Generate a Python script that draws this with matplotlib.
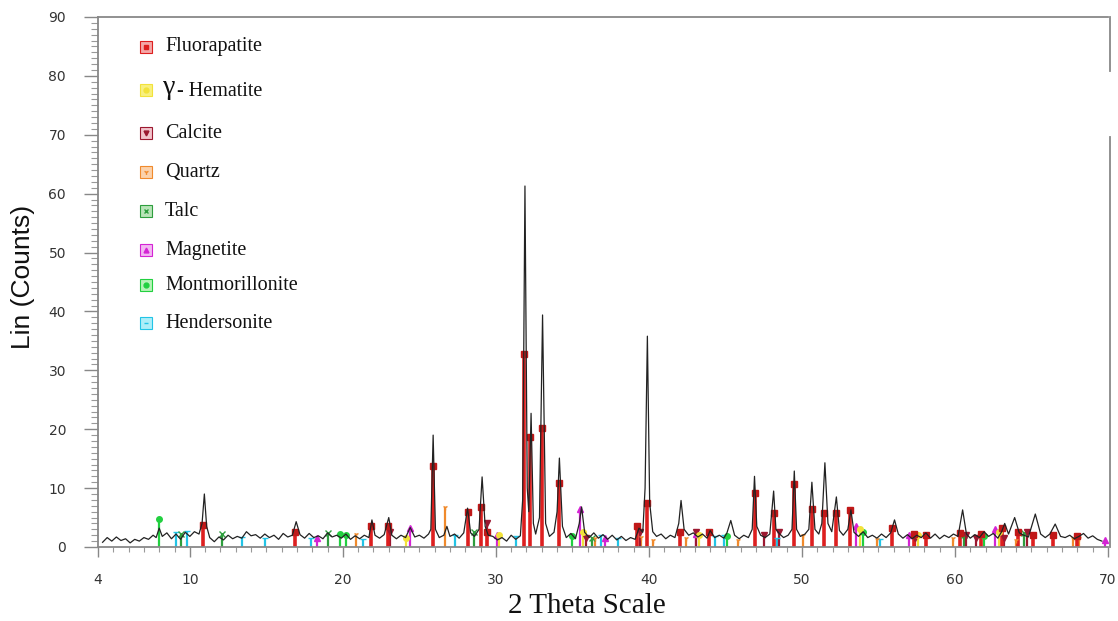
import matplotlib.pyplot as plt
from matplotlib.ticker import MultipleLocator

# padrao de difracao (2theta, contagens)
two_theta = [4.3, 4.6, 4.9, 5.2, 5.5, 5.8, 6.1, 6.4, 6.7, 7.0, 7.3, 7.6, 7.8, 8.0, 8.2, 8.5, 8.8, 9.1, 9.4, 9.7,
             10.0, 10.3, 10.6, 10.8, 10.95, 11.1, 11.3, 11.6, 11.9, 12.2, 12.5, 12.8, 13.1, 13.4, 13.7, 14.0,
             14.3, 14.6, 14.9, 15.2, 15.5, 15.8, 16.1, 16.4, 16.7, 16.95, 17.2, 17.5, 17.8, 18.1, 18.4, 18.7,
             19.0, 19.3, 19.6, 19.9, 20.2, 20.5, 20.8, 21.1, 21.4, 21.7, 21.9, 22.1, 22.4, 22.7, 23.0, 23.2,
             23.5, 23.8, 24.1, 24.4, 24.7, 25.0, 25.3, 25.6, 25.75, 25.9, 26.05, 26.3, 26.6, 26.8, 27.0, 27.3,
             27.6, 27.9, 28.15, 28.35, 28.6, 28.9, 29.1, 29.3, 29.5, 29.8, 30.1, 30.4, 30.7, 31.0, 31.3, 31.6,
             31.75, 31.9, 32.05, 32.15, 32.3, 32.45, 32.6, 32.85, 33.05, 33.25, 33.5, 33.8, 34.0, 34.15, 34.35,
             34.6, 34.9, 35.2, 35.45, 35.6, 35.8, 36.1, 36.4, 36.7, 37.0, 37.3, 37.6, 37.9, 38.2, 38.5, 38.8,
             39.1, 39.35, 39.6, 39.75, 39.9, 40.05, 40.25, 40.5, 40.8, 41.1, 41.4, 41.7, 41.95, 42.1, 42.3,
             42.6, 42.9, 43.2, 43.5, 43.8, 44.0, 44.3, 44.6, 44.9, 45.1, 45.35, 45.6, 45.9, 46.2, 46.5, 46.75,
             46.9, 47.05, 47.3, 47.6, 47.9, 48.15, 48.3, 48.55, 48.8, 49.1, 49.35, 49.5, 49.65, 49.9, 50.2,
             50.45, 50.65, 50.85, 51.1, 51.3, 51.5, 51.7, 51.95, 52.25, 52.45, 52.7, 53.0, 53.2, 53.4, 53.7,
             54.0, 54.3, 54.6, 54.9, 55.2, 55.5, 55.8, 56.05, 56.3, 56.6, 56.9, 57.2, 57.5, 57.8, 58.1, 58.4,
             58.7, 59.0, 59.3, 59.6, 59.9, 60.2, 60.5, 60.75, 61.0, 61.3, 61.6, 61.9, 62.2, 62.5, 62.8, 63.05,
             63.25, 63.5, 63.9, 64.2, 64.5, 64.8, 65.25, 65.6, 65.9, 66.2, 66.55, 66.9, 67.2, 67.5, 67.8, 68.1,
             68.4, 68.7, 69.0, 69.3, 69.6]
counts = [0.8, 1.6, 1.0, 1.7, 1.1, 1.4, 0.7, 1.3, 1.0, 1.6, 1.3, 2.0, 1.6, 3.2, 1.8, 2.4, 1.4, 2.2, 1.3, 2.5,
          1.8, 2.6, 2.2, 4.0, 9.0, 3.5, 1.6, 0.9, 1.7, 1.2, 2.0, 1.4, 1.8, 1.5, 2.6, 1.9,
          2.1, 1.5, 2.2, 1.6, 2.0, 1.3, 2.3, 1.7, 2.0, 4.3, 2.1, 1.5, 2.3, 1.6, 1.9, 1.4,
          2.4, 1.7, 2.0, 1.5, 2.2, 1.3, 1.9, 1.4, 2.0, 1.6, 4.6, 2.0, 1.5, 2.1, 5.0, 2.0,
          1.4, 2.0, 1.6, 3.3, 1.7, 2.0, 1.5, 2.2, 3.0, 19.0, 3.0, 1.6, 2.0, 3.5, 1.8, 2.2,
          1.5, 2.4, 6.6, 2.4, 1.8, 3.0, 11.9, 3.5, 2.0, 1.8, 1.2, 1.6, 1.0, 2.0, 1.3, 1.9,
          8.0, 61.3, 10.0, 6.0, 22.7, 4.0, 2.2, 5.0, 39.4, 4.0, 1.8, 2.5, 6.0, 15.1, 3.5,
          1.6, 2.3, 1.4, 4.0, 6.8, 2.5, 1.6, 2.4, 1.5, 2.1, 1.3, 2.0, 1.2, 1.8, 1.1, 1.6,
          1.3, 3.2, 2.5, 10.0, 35.8, 7.5, 2.6, 1.8, 2.2, 1.4, 2.0, 1.6, 4.0, 7.9, 3.0,
          2.0, 2.4, 1.7, 2.2, 1.5, 2.8, 1.6, 2.0, 1.5, 2.4, 4.5, 2.0, 1.4, 2.0, 1.6, 3.0,
          12.0, 3.5, 2.0, 1.6, 2.2, 9.5, 3.0, 2.2, 1.6, 2.0, 3.0, 12.9, 3.0, 1.8, 2.2,
          3.0, 11.0, 3.0, 2.2, 4.0, 14.3, 4.0, 2.6, 8.5, 2.8, 2.0, 3.0, 6.3, 2.5, 1.8,
          2.6, 1.6, 2.0, 1.5, 2.2, 1.6, 2.4, 4.6, 2.2, 1.5, 2.1, 1.4, 2.0, 1.6, 2.4, 1.5,
          2.2, 1.4, 2.0, 1.6, 2.2, 1.8, 6.3, 2.2, 1.5, 2.1, 1.6, 2.6, 1.8, 2.3, 1.5, 2.6,
          4.0, 2.2, 5.0, 2.4, 2.0, 1.7, 5.6, 2.2, 1.6, 2.2, 3.9, 1.8, 1.6, 2.0, 1.4, 1.8,
          2.3, 1.5, 1.9, 1.3, 1.0]

# linhas de referencia de cada fase (posicao, altura)
fluor_pos = [10.85, 16.9, 21.85, 22.95, 25.9, 28.15, 29.0, 29.4, 31.85, 32.25, 33.0, 34.1, 39.25, 39.85,
             42.05, 43.9, 46.95, 48.2, 49.5, 50.65, 51.45, 52.25, 53.15, 55.9, 57.3, 58.1, 60.3, 61.7,
             63.1, 64.1, 65.1, 66.4, 68.0]
fluor_h = [3.8, 2.5, 3.5, 3.5, 13.8, 6.0, 6.8, 2.5, 32.8, 18.7, 20.2, 10.9, 3.5, 7.4,
           2.6, 2.5, 9.1, 5.7, 10.7, 6.4, 5.8, 5.8, 6.3, 3.2, 2.2, 2.0, 2.3, 2.2,
           3.3, 2.5, 2.0, 2.0, 1.8]
hema_pos = [24.1, 30.2, 35.7, 43.3, 53.8, 57.6, 62.9]
hema_h = [1.5, 2.0, 2.5, 2.0, 3.0, 2.0, 2.5]
calc_pos = [23.05, 29.4, 35.9, 39.4, 43.1, 47.5, 48.5, 57.4, 60.7, 61.4, 63.2, 64.7]
calc_h = [2.5, 4.0, 1.5, 2.5, 2.5, 2.0, 2.5, 1.5, 2.0, 1.6, 1.5, 2.5]
quartz_pos = [20.85, 26.65, 36.5, 39.5, 40.3, 42.45, 45.8, 50.1, 54.9, 59.9, 64.0, 67.7, 68.1]
quartz_h = [2.2, 6.8, 1.5, 1.7, 1.2, 1.5, 1.2, 2.0, 1.3, 1.5, 1.2, 1.5, 1.5]
talc_pos = [9.4, 12.1, 19.0, 28.6, 36.3, 60.6, 64.5]
talc_h = [2.2, 2.2, 2.3, 2.5, 1.6, 2.0, 2.3]
magn_pos = [18.3, 24.4, 30.1, 35.5, 37.1, 43.1, 53.5, 57.0, 62.6, 69.8]
magn_h = [1.5, 3.2, 2.1, 6.5, 1.6, 2.2, 3.5, 2.0, 3.0, 1.2]
mont_pos = [8.0, 19.8, 20.2, 35.0, 45.1, 54.0, 61.9]
mont_h = [4.7, 2.2, 2.0, 1.8, 1.8, 2.5, 1.8]
hend_pos = [9.1, 9.8, 13.4, 14.9, 17.9, 21.3, 27.3, 31.3, 36.9, 38.0, 44.3, 44.9, 48.4, 55.1]
hend_h = [2.5, 2.8, 1.7, 1.5, 1.6, 1.4, 2.0, 1.8, 2.0, 1.5, 1.9, 2.0, 1.6, 1.4]

fig = plt.figure(figsize=(11.18, 6.21), dpi=100)
ax = fig.add_axes([98/1118, 1-547/621, 1010/1118, 530/621])

fases = [
    (hend_pos, hend_h, '#22c4e6', '_'),
    (mont_pos, mont_h, '#22d040', 'o'),
    (magn_pos, magn_h, '#d424d4', '^'),
    (talc_pos, talc_h, '#2e9e3e', 'x'),
    (quartz_pos, quartz_h, '#f08a2c', '1'),
    (calc_pos, calc_h, '#9c1830', 'v'),
    (hema_pos, hema_h, '#f2e23a', 'o'),
]
for pos, h, cor, mk in fases:
    ax.vlines(pos, 0, h, colors=cor, linewidth=1.6, zorder=2)
    ax.plot(pos, h, linestyle='none', marker=mk, color=cor, markersize=4, zorder=3)

ax.vlines(fluor_pos, 0, fluor_h, colors='#dd1f1f', linewidth=2.6, zorder=2)
ax.plot(fluor_pos, fluor_h, linestyle='none', marker='s', color='#c01818', markersize=4.5, zorder=3)

ax.plot(two_theta, counts, color='#222222', linewidth=0.9, zorder=4)

ax.set_xlim(4, 70)
ax.set_ylim(0, 90)
ax.set_xticks([4, 10, 20, 30, 40, 50, 60, 70])
ax.xaxis.set_minor_locator(MultipleLocator(1))
ax.yaxis.set_major_locator(MultipleLocator(10))
ax.yaxis.set_minor_locator(MultipleLocator(1))
ax.tick_params(axis='x', which='major', direction='out', length=7, width=1, color='#888888',
               labelsize=10, labelcolor='#333333', pad=12)
ax.tick_params(axis='x', which='minor', direction='out', length=3.5, width=0.8, color='#999999')
ax.tick_params(axis='y', which='major', direction='out', length=10, width=1, color='#888888',
               labelsize=10, labelcolor='#333333', pad=13)
ax.tick_params(axis='y', which='minor', direction='out', length=5, width=0.8, color='#999999')

for s in ['left', 'top', 'bottom']:
    ax.spines[s].set_color('#888888')
    ax.spines[s].set_linewidth(1.3)
ax.spines['right'].set_visible(False)
# borda direita interrompida como na figura original
ax.plot([1.002, 1.002], [1.0, 0.898], transform=ax.transAxes, color='#888888', linewidth=1.3, clip_on=False)
ax.plot([1.002, 1.002], [0.773, 0.0], transform=ax.transAxes, color='#888888', linewidth=1.3, clip_on=False)

fig.text(23/1118, 1-277/621, 'Lin (Counts)', rotation=90, ha='center', va='center',
         fontsize=19, family='Liberation Sans', color='#111111')
fig.text(587/1118, 2/621, '2 Theta Scale', ha='center', va='bottom',
         fontsize=21, family='Liberation Serif', color='#111111')

# legenda desenhada manualmente
legenda = [
    ('Fluorapatite', '#dd1f1f', '#f4a8a8', 's', 47),
    ('Hematite', '#f2e23a', '#f8f080', 'o', 90),
    ('Calcite', '#9c1830', '#f2c4cc', 'v', 133),
    ('Quartz', '#f08a2c', '#fbd2ac', '1', 172),
    ('Talc', '#2e9e3e', '#b8e4b8', 'x', 211),
    ('Magnetite', '#d424d4', '#f2b8f2', '^', 250),
    ('Montmorillonite', '#22d040', '#b8f2b8', 'o', 285),
    ('Hendersonite', '#22c4e6', '#aeeef8', '_', 323),
]
for nome, cor, fundo, mk, py in legenda:
    yf = 1 - py/621
    fig.lines.append(plt.Line2D([146/1118], [yf], marker='s', markersize=9, markerfacecolor=fundo,
                                markeredgecolor=cor, markeredgewidth=0.8, transform=fig.transFigure))
    fig.lines.append(plt.Line2D([146/1118], [yf], marker=mk, markersize=3.5, color=cor,
                                transform=fig.transFigure))
    if nome == 'Hematite':
        fig.text(163/1118, yf + 0.004, 'γ', fontsize=20, family='Liberation Serif', va='center',
                 color='#111111')
        fig.text(177/1118, yf - 0.002, '- Hematite', fontsize=14.5, family='Liberation Serif',
                 va='center', color='#111111')
    else:
        fig.text(165/1118, yf, nome, fontsize=14.5, family='Liberation Serif', va='center',
                 color='#111111')

fig.savefig('out.png', dpi=100)
